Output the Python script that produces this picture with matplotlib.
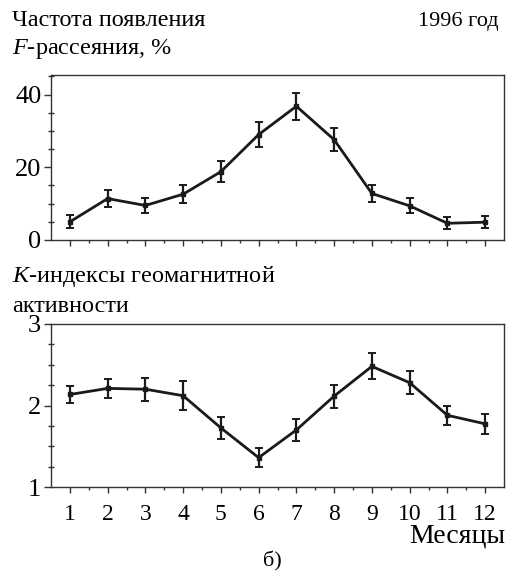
import matplotlib.pyplot as plt
import numpy as np

plt.rcParams['font.family'] = ['Liberation Serif', 'DejaVu Serif']
plt.rcParams['mathtext.fontset'] = 'custom'
plt.rcParams['mathtext.it'] = 'Liberation Serif:italic'
plt.rcParams['mathtext.rm'] = 'Liberation Serif'

# monthly data, 1996
months = list(range(1, 13))
fSpread = [5.0, 11.4, 9.5, 12.6, 18.8, 29.0, 36.8, 27.6, 12.8, 9.4, 4.6, 4.9]
fSpreadErr = [1.8, 2.3, 2.1, 2.4, 2.8, 3.5, 3.7, 3.2, 2.3, 2.1, 1.6, 1.7]
kIndex = [2.135, 2.21, 2.20, 2.12, 1.725, 1.36, 1.70, 2.115, 2.48, 2.28, 1.88, 1.775]
kIndexErr = [0.11, 0.12, 0.14, 0.18, 0.13, 0.12, 0.13, 0.14, 0.16, 0.14, 0.12, 0.12]

W, H = 516, 573
fig = plt.figure(figsize=(W / 100, H / 100), dpi=100)

def box(l, t, r, b):
    return [l / W, 1 - b / H, (r - l) / W, (b - t) / H]

ax1 = fig.add_axes(box(51, 75, 504, 240))
ax2 = fig.add_axes(box(51, 324, 504, 487))

def drawPanel(ax, y, err, ylim, yticks, yminor):
    ax.errorbar(months, y, yerr=err, color='#1a1a1a', lw=2.0, elinewidth=1.6,
                capsize=3, capthick=1.4, marker='s', ms=2.5)
    ax.set_xlim(0.5, 12.5)
    ax.set_ylim(*ylim)
    ax.set_yticks(yticks)
    ax.set_yticks(yminor, minor=True)
    ax.set_xticks(months)
    ax.set_xticks(np.arange(1.5, 12.5, 1), minor=True)
    ax.tick_params(which='both', top=False, right=False, width=1.0, color='#333333')
    ax.tick_params(axis='x', which='major', direction='out', length=4)
    ax.tick_params(axis='x', which='minor', direction='out', length=2.5)
    ax.tick_params(axis='y', which='major', direction='out', length=5)
    ax.tick_params(axis='y', which='minor', direction='inout', length=4.5)
    ax.tick_params(axis='y', labelsize=19, pad=2)
    ax.tick_params(axis='x', labelsize=17, pad=8)
    for s in ax.spines.values():
        s.set_linewidth(1.0)
        s.set_color('#333333')

drawPanel(ax1, fSpread, fSpreadErr, (0, 45.4), [0, 20, 40], np.arange(0, 46, 5))
ax1.set_xticklabels([])
drawPanel(ax2, kIndex, kIndexErr, (1, 3), [1, 2, 3], np.arange(1, 3.01, 0.25))

fig.text(12 / W, 1 - 26 / H, 'Частота появления', fontsize=17.5, va='baseline')
fig.text(12 / W, 1 - 54 / H, '$F$-рассеяния, %', fontsize=17.5, va='baseline')
fig.text(499 / W, 1 - 26 / H, '1996 год', fontsize=16, va='baseline', ha='right')
fig.text(12 / W, 1 - 282 / H, '$K$-индексы геомагнитной', fontsize=17.5, va='baseline')
fig.text(12 / W, 1 - 312 / H, 'активности', fontsize=17.5, va='baseline')
fig.text(505 / W, 1 - 543 / H, 'Месяцы', fontsize=20, va='baseline', ha='right')
fig.text(272 / W, 1 - 566 / H, 'б)', fontsize=16, va='baseline', ha='center')

fig.savefig('out.png', dpi=100)
